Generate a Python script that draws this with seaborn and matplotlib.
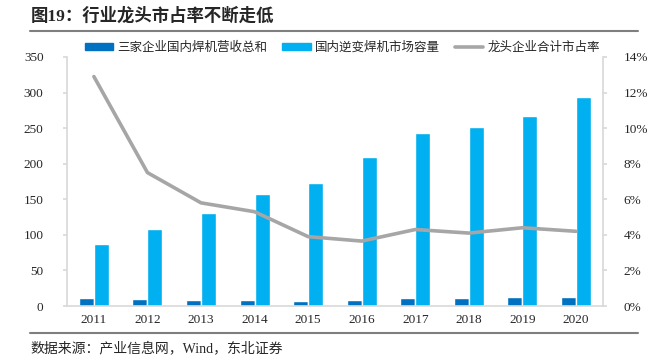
import matplotlib
matplotlib.use("Agg")
import matplotlib.pyplot as plt
import seaborn as sns
import pandas as pd
import numpy as np
from matplotlib.lines import Line2D
from matplotlib.patches import Patch

years = ["2011", "2012", "2013", "2014", "2015", "2016", "2017", "2018", "2019", "2020"]
revenue = [11, 10, 9, 8.5, 7.5, 8.5, 11, 11, 12, 13]
market = [87, 108, 131, 157, 173, 209, 243, 252, 267, 294]
share = [12.9, 7.5, 5.8, 5.3, 3.9, 3.65, 4.3, 4.1, 4.4, 4.2]
names = ["三家企业国内焊机营收总和", "国内逆变焊机市场容量", "龙头企业合计市占率"]
title = "图19：行业龙头市占率不断走低"
source = "数据来源：产业信息网，Wind，东北证券"

sns.set_theme(style="white")
FAM = ["Liberation Serif", "Noto Sans CJK SC"]
plt.rcParams["font.family"] = FAM

c_dark = "#0070C0"
c_light = "#00B0F0"
c_line = "#A6A6A6"

df = pd.DataFrame({
    "year": years * 2,
    "value": revenue + market,
    "series": [names[0]] * len(years) + [names[1]] * len(years),
})

fig = plt.figure(figsize=(6.58, 3.63), dpi=100)
ax = fig.add_axes([0.102, 0.157, 0.814, 0.686])
sns.barplot(data=df, x="year", y="value", hue="series", order=years,
            hue_order=names[:2], palette=[c_dark, c_light], width=0.56,
            gap=0, saturation=1, ax=ax, legend=False)
ax.set_ylim(0, 350)
ax.set_yticks(np.arange(0, 351, 50))
ax.set_xlim(-0.5, len(years) - 0.5)
ax.set_xlabel("")
ax.set_ylabel("")
for s in ["top", "right"]:
    ax.spines[s].set_visible(False)
ax.spines["left"].set_color("#D9D9D9")
ax.spines["bottom"].set_color("#D9D9D9")
ax.spines["bottom"].set_linewidth(1.2)
ax.tick_params(axis="y", labelsize=9.5, length=3, color="#D9D9D9", left=True, pad=14)
ax.tick_params(axis="x", labelsize=9.5, length=0, pad=6)

ax2 = ax.twinx()
sns.lineplot(x=np.arange(len(years)), y=share, color=c_line, linewidth=2.6, ax=ax2)
ax2.set_ylim(0, 14)
ax2.set_yticks(np.arange(0, 15, 2))
ax2.set_yticklabels([f"{v}%" for v in range(0, 15, 2)])
ax2.set_xlim(-0.5, len(years) - 0.5)
for s in ["top", "left", "bottom"]:
    ax2.spines[s].set_visible(False)
ax2.spines["right"].set_color("#D9D9D9")
ax2.tick_params(axis="y", labelsize=9.5, length=3, color="#D9D9D9", right=True, pad=12)

handles = [Patch(color=c_dark), Patch(color=c_light),
           Line2D([0], [0], color=c_line, linewidth=2.6)]
fig.legend(handles, names, loc="center", bbox_to_anchor=(0.52, 0.868), ncol=3,
           frameon=False, handlelength=2.3, handleheight=0.5,
           handletextpad=0.3, columnspacing=1.2,
           prop={"family": FAM, "size": 9})

fig.text(0.046, 0.955, title, fontsize=12.5, fontweight="bold",
         family=FAM, va="center", ha="left")
fig.add_artist(Line2D([0.046, 0.97], [0.915, 0.915], color="#7F7F7F", linewidth=1.5,
                      transform=fig.transFigure))
fig.add_artist(Line2D([0.046, 0.97], [0.082, 0.082], color="#7F7F7F", linewidth=1.5,
                      transform=fig.transFigure))
fig.text(0.046, 0.04, source, fontsize=10, family=FAM,
         va="center", ha="left")

fig.savefig("out.png", dpi=100)
